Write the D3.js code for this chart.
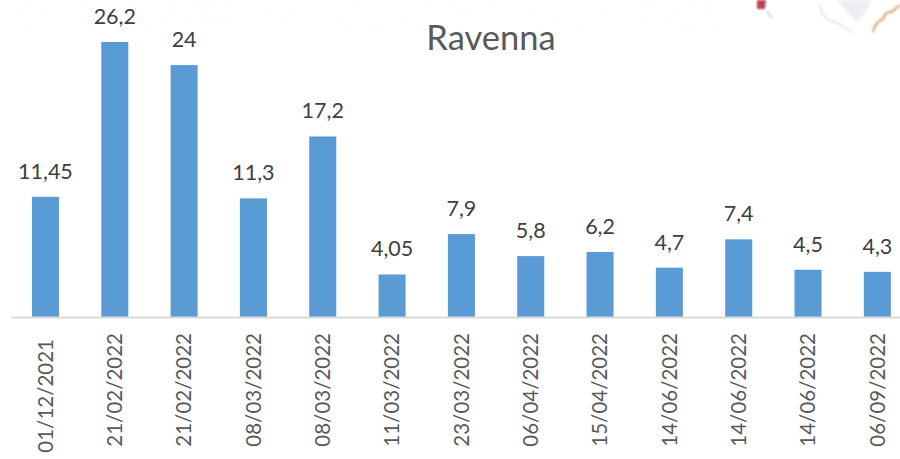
<!DOCTYPE html>
<html>
<head>
<meta charset="utf-8">
<script src="https://cdn.jsdelivr.net/npm/d3@7"></script>
<style>
  html, body { margin: 0; padding: 0; background: #fff; overflow: hidden; }
  svg { display: block; font-family: Lato, "Open Sans", sans-serif; }
</style>
</head>
<body>
<div id="chart-container"></div>
<script>
const dates = ["01/12/2021", "21/02/2022", "21/02/2022", "08/03/2022", "08/03/2022", "11/03/2022",
    "23/03/2022", "06/04/2022", "15/04/2022", "14/06/2022", "14/06/2022", "14/06/2022", "06/09/2022"];
const values = [11.45, 26.2, 24, 11.3, 17.2, 4.05, 7.9, 5.8, 6.2, 4.7, 7.4, 4.5, 4.3];
const labels = ["11,45", "26,2", "24", "11,3", "17,2", "4,05", "7,9", "5,8", "6,2", "4,7", "7,4", "4,5", "4,3"];

const width = 900;
const height = 459;
const baseY = 317;

const svg = d3.select("#chart-container")
    .append("svg")
    .attr("width", width)
    .attr("height", height);

// Faded map texture behind the top of the chart
const defs = svg.append("defs");
const speckle = defs.append("filter")
    .attr("id", "speckle")
    .attr("x", 0).attr("y", 0).attr("width", 1).attr("height", 1);
speckle.append("feTurbulence")
    .attr("type", "fractalNoise")
    .attr("baseFrequency", 0.3)
    .attr("numOctaves", 2)
    .attr("seed", 4);
speckle.append("feColorMatrix")
    .attr("values", "0 0 0 0 0.72  0 0 0 0 0.74  0 0 0 0 0.78  0 0 0 9 -6.3");
const soft = defs.append("filter").attr("id", "soft");
soft.append("feGaussianBlur").attr("stdDeviation", 0.8);

svg.append("rect")
    .attr("x", 0).attr("y", 0)
    .attr("width", 740).attr("height", 33)
    .attr("filter", "url(#speckle)")
    .attr("opacity", 0.22);

const map = svg.append("g").attr("filter", "url(#soft)").attr("fill", "none");
map.append("path")
    .attr("d", "M820,4 L822,14 L830,21 L840,24 L852,33")
    .attr("stroke", "#e4e7ed")
    .attr("stroke-width", 2);
map.append("path")
    .attr("d", "M836,0 L872,0 L866,12 L856,22 L848,12 Z")
    .attr("fill", "#eceef3");
map.append("path")
    .attr("d", "M873,32 Q875,22 883,19 Q886,10 892,12 Q896,8 900,5")
    .attr("stroke", "#dea070")
    .attr("stroke-width", 2);
map.append("path")
    .attr("d", "M757,0 L766,0 L765,9 L757,9 Z")
    .attr("fill", "#b5434f");
map.append("path")
    .attr("d", "M767,11 L772,18")
    .attr("stroke", "#c9ccd6")
    .attr("stroke-width", 1.5);

// band index, dates repeat so they can't be the domain
const xScale = d3.scaleBand()
    .domain(d3.range(dates.length))
    .range([10.8, 912])
    .paddingInner(0.61)
    .paddingOuter(0.305);

const yScale = d3.scaleLinear()
    .domain([0, 26.2])
    .range([baseY, 42]);

// Bars
svg.selectAll("rect.bar")
    .data(values)
    .enter()
    .append("rect")
    .attr("class", "bar")
    .attr("x", (d, i) => xScale(i))
    .attr("y", d => yScale(d))
    .attr("width", xScale.bandwidth())
    .attr("height", d => baseY - yScale(d))
    .style("fill", "#5b9bd5");

// Value labels
svg.selectAll("text.value")
    .data(values)
    .enter()
    .append("text")
    .attr("class", "value")
    .attr("x", (d, i) => xScale(i) + xScale.bandwidth() / 2)
    .attr("y", d => yScale(d) - 18)
    .attr("text-anchor", "middle")
    .style("font-size", "21.5px")
    .style("fill", "#404040")
    .text((d, i) => labels[i]);

// X axis
const xAxis = svg.append("g")
    .attr("transform", `translate(0, ${baseY})`)
    .call(d3.axisBottom(xScale).tickSize(0).tickFormat(i => dates[i]));

xAxis.select(".domain")
    .attr("stroke", "#d9d9d9")
    .attr("stroke-width", 2);

// the first label sits a little lower than the others
xAxis.selectAll("text")
    .attr("transform", "rotate(-90)")
    .attr("text-anchor", "end")
    .attr("x", (d, i) => i === 0 ? -22 : -16)
    .attr("y", 0)
    .attr("dy", "0.35em")
    .style("font-family", "Lato, sans-serif")
    .style("font-size", "20.5px")
    .style("fill", "#595959");

// Title
svg.append("text")
    .attr("x", 491)
    .attr("y", 50)
    .attr("text-anchor", "middle")
    .style("font-size", "34.5px")
    .style("fill", "#595959")
    .text("Ravenna");
</script>
</body>
</html>
